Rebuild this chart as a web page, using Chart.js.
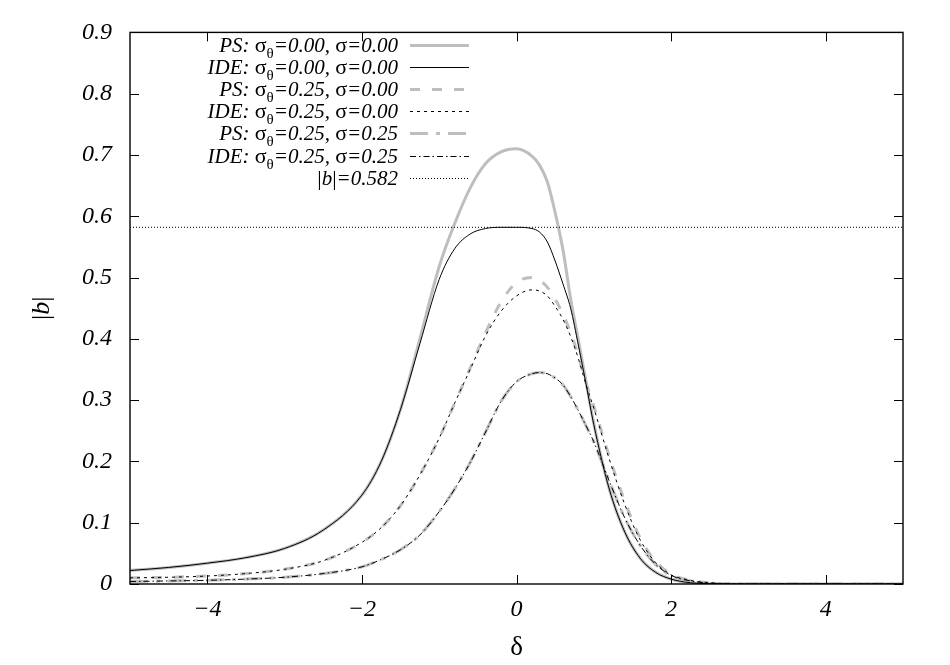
<!DOCTYPE html>
<html>
<head>
<meta charset="utf-8">
<script src="https://cdn.jsdelivr.net/npm/chart.js@4.4.1/dist/chart.umd.min.js"></script>
<style>
html,body{margin:0;padding:0;background:#fff;}
#wrap{width:950px;height:665px;position:relative;}
</style>
</head>
<body>
<div id="wrap"><canvas id="c"></canvas></div>
<script>
// ---- data ----
const delta  = [-5,-4.5,-4,-3.5,-3,-2.5,-2,-1.75,-1.5,-1.25,-1,-0.8,-0.6,-0.4,-0.2,0,0.2,0.3,0.4,0.5,0.6,0.7,0.8,0.9,1,1.2,1.4,1.6,1.8,2,2.25,2.5,3,3.5,4,4.5,5];
const psS0   = [0.022,0.027,0.034,0.043,0.058,0.088,0.145,0.200,0.285,0.400,0.518,0.588,0.646,0.686,0.705,0.710,0.698,0.683,0.656,0.606,0.546,0.466,0.398,0.330,0.262,0.155,0.085,0.042,0.019,0.008,0.002,0.0005,0,0,0,0,0];
const ideS0  = [0.022,0.027,0.034,0.043,0.058,0.088,0.145,0.200,0.285,0.392,0.497,0.547,0.571,0.580,0.582,0.582,0.580,0.574,0.558,0.527,0.490,0.450,0.390,0.326,0.260,0.155,0.085,0.042,0.019,0.008,0.002,0.0005,0,0,0,0,0];
const psT25  = [0.010,0.011,0.013,0.017,0.024,0.038,0.068,0.092,0.128,0.178,0.238,0.295,0.352,0.410,0.460,0.492,0.500,0.496,0.484,0.465,0.440,0.410,0.372,0.328,0.290,0.208,0.135,0.075,0.037,0.016,0.006,0.002,0,0,0,0,0];
const ideT25 = [0.010,0.011,0.013,0.017,0.024,0.038,0.068,0.092,0.128,0.178,0.238,0.295,0.350,0.405,0.445,0.470,0.480,0.478,0.470,0.453,0.432,0.404,0.368,0.325,0.287,0.204,0.130,0.072,0.035,0.015,0.006,0.002,0,0,0,0,0];
const psB25  = [0.004,0.005,0.006,0.008,0.011,0.017,0.028,0.040,0.056,0.080,0.118,0.155,0.198,0.248,0.298,0.330,0.343,0.345,0.343,0.336,0.325,0.306,0.283,0.258,0.232,0.168,0.108,0.063,0.032,0.014,0.005,0.0015,0,0,0,0,0];
const ideB25 = [0.004,0.005,0.006,0.008,0.011,0.017,0.028,0.040,0.056,0.080,0.118,0.155,0.198,0.248,0.298,0.330,0.343,0.345,0.343,0.336,0.325,0.306,0.283,0.258,0.232,0.168,0.108,0.063,0.032,0.014,0.005,0.0015,0,0,0,0,0];
const threshold = 0.582;
const xTicks = [-4,-2,0,2,4];
const yTicks = [0,0.1,0.2,0.3,0.4,0.5,0.6,0.7,0.8,0.9];
const seriesModel = ['PS','IDE','PS','IDE','PS','IDE'];
const seriesSigmaTheta = ['0.00','0.00','0.25','0.25','0.25','0.25'];
const seriesSigma = ['0.00','0.00','0.00','0.00','0.25','0.25'];

const GRAY = '#bebebe';
const pts = arr => arr.map((v,i)=>({x:delta[i], y:v}));
const styles = [
  {color:GRAY, width:3, dash:[], order:1},
  {color:'#000', width:1, dash:[], order:0},
  {color:GRAY, width:3, dash:[10,12], order:1},
  {color:'#000', width:1, dash:[3,4], order:0},
  {color:GRAY, width:3, dash:[18,8,4,8], order:1},
  {color:'#000', width:1, dash:[6,3,1.5,3], order:0},
  {color:'#000', width:1, dash:[1,2], order:0}
];
const seriesData = [psS0, ideS0, psT25, ideT25, psB25, ideB25];
const datasets = seriesData.map((arr,i)=>({
  label: seriesModel[i]+': σθ='+seriesSigmaTheta[i]+', σ='+seriesSigma[i],
  data: pts(arr),
  borderColor: styles[i].color, borderWidth: styles[i].width, borderDash: styles[i].dash,
  order: styles[i].order, pointRadius:0, fill:false, cubicInterpolationMode:'monotone', borderCapStyle:'butt'
}));
datasets.push({label:'|b|='+threshold, data:[{x:-5,y:threshold},{x:5,y:threshold}],
  borderColor:'#000', borderWidth:1, borderDash:[1,2], order:0, pointRadius:0, fill:false});

const SERIF = "'Liberation Serif','Times New Roman',serif";

function drawRuns(ctx, runs, xRight, yBase){
  let total = 0;
  runs.forEach(r=>{ctx.font=r.f; total+=ctx.measureText(r.t).width;});
  let x = xRight - total;
  runs.forEach(r=>{ctx.font=r.f; ctx.fillText(r.t, x, yBase+(r.dy||0)); x+=ctx.measureText(r.t).width;});
}

const decor = {
  id:'decor',
  afterDatasetsDraw(chart){
    const ctx = chart.ctx, a = chart.chartArea, xs = chart.scales.x, ys = chart.scales.y;
    ctx.save();
    ctx.strokeStyle='#000'; ctx.lineWidth=1.4; ctx.setLineDash([]);
    ctx.strokeRect(a.left, a.top, a.right-a.left, a.bottom-a.top);
    ctx.lineWidth=1;
    const tl = 9;
    ctx.beginPath();
    xTicks.forEach(v=>{const px=Math.round(xs.getPixelForValue(v))+0.5;
      ctx.moveTo(px,a.bottom); ctx.lineTo(px,a.bottom-tl); ctx.moveTo(px,a.top); ctx.lineTo(px,a.top+tl);});
    yTicks.forEach(v=>{const py=Math.round(ys.getPixelForValue(v))+0.5;
      ctx.moveTo(a.left,py); ctx.lineTo(a.left+tl,py); ctx.moveTo(a.right,py); ctx.lineTo(a.right-tl,py);});
    ctx.stroke();

    // axis titles
    ctx.fillStyle='#000'; ctx.textBaseline='alphabetic';
    ctx.font = "27px "+SERIF; ctx.textAlign='center';
    ctx.fillText('δ', (a.left+a.right)/2, 655);
    ctx.save();
    ctx.translate(49, (a.top+a.bottom)/2);
    ctx.rotate(-Math.PI/2);
    ctx.textAlign='left';
    const tr=[{t:'|',f:"26px "+SERIF},{t:'b',f:"italic 26px "+SERIF},{t:'|',f:"26px "+SERIF}];
    let w=0; tr.forEach(r=>{ctx.font=r.f; w+=ctx.measureText(r.t).width;});
    drawRuns(ctx, tr, w/2, 0);
    ctx.restore();

    // legend
    ctx.textAlign='left';
    const it = "italic 21px "+SERIF, up = "22px "+SERIF, sub = "15px "+SERIF;
    const rowY0 = 45, rowH = 22.1, textRight = 398, s0 = 410, s1 = 469;
    chart.data.datasets.forEach((ds,i)=>{
      const cy = rowY0 + i*rowH;
      let runs;
      if (i < seriesModel.length){
        runs = [{t:seriesModel[i]+': ',f:it},{t:'σ',f:up},{t:'θ',f:sub,dy:6},
                {t:'='+seriesSigmaTheta[i]+', ',f:it},{t:'σ',f:up},{t:'='+seriesSigma[i],f:it}];
      } else {
        runs = [{t:'|',f:up},{t:'b',f:it},{t:'|',f:up},{t:'='+threshold,f:it}];
      }
      drawRuns(ctx, runs, textRight, cy+7);
      ctx.beginPath();
      ctx.strokeStyle = ds.borderColor; ctx.lineWidth = ds.borderWidth; ctx.setLineDash(ds.borderDash||[]);
      ctx.moveTo(s0, Math.round(cy)+0.5); ctx.lineTo(s1, Math.round(cy)+0.5); ctx.stroke();
    });
    ctx.restore();
  }
};

new Chart(document.getElementById('c'), {
  type:'line',
  data:{datasets},
  options:{
    responsive:true, maintainAspectRatio:false, animation:false,
    layout:{padding:{top:21,right:47,left:0,bottom:0}},
    plugins:{legend:{display:false}, tooltip:{enabled:false}},
    scales:{
      x:{type:'linear', min:-5, max:5,
         afterBuildTicks(s){ s.ticks = xTicks.map(v=>({value:v})); },
         afterFit(s){ s.height = 81; },
         grid:{display:false, drawTicks:false}, border:{display:false},
         ticks:{padding:11, color:'#000', font:{family:SERIF, style:'italic', size:24},
           maxRotation:0, callback:v=> v<0 ? '−'+Math.abs(v) : String(v)}},
      y:{type:'linear', min:0, max:0.9,
         afterBuildTicks(s){ s.ticks = yTicks.map(v=>({value:v})); },
         afterFit(s){ s.width = 130; },
         grid:{display:false, drawTicks:false}, border:{display:false},
         ticks:{padding:18, color:'#000', font:{family:SERIF, style:'italic', size:24},
           callback:v=> v===0 ? '0' : Number(v).toFixed(1)}}
    }
  },
  plugins:[decor]
});
</script>
</body>
</html>
